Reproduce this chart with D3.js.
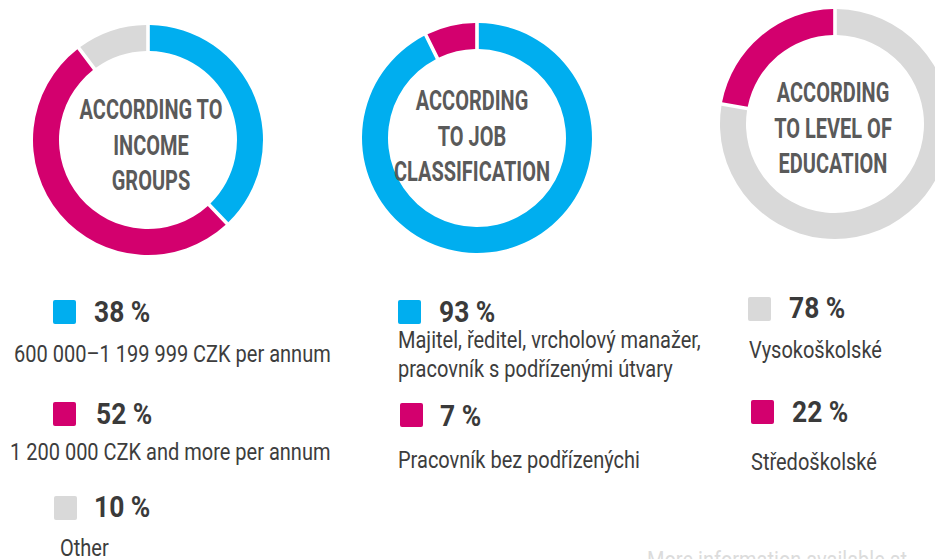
<!DOCTYPE html>
<html>
<head>
<meta charset="utf-8">
<script src="https://cdn.jsdelivr.net/npm/d3@7"></script>
<style>
  html, body { margin: 0; padding: 0; background: #fff; overflow: hidden; }
  svg text { font-family: Roboto, "Liberation Sans", sans-serif; }
</style>
</head>
<body>
<svg id="chart" width="935" height="559"></svg>
<script>
// data
let incomeCategories = ['600 000–1 199 999 CZK per annum', '1 200 000 CZK and more per annum', 'Other']
let incomeValues = [38, 52, 10]
let jobCategories = ['Majitel, ředitel, vrcholový manažer,\npracovník s podřízenými útvary', 'Pracovník bez podřízenýchi']
let jobValues = [93, 7]
let educationCategories = ['Vysokoškolské', 'Středoškolské']
let educationValues = [78, 22]

let titles = [
    ['ACCORDING TO', 'INCOME', 'GROUPS'],
    ['ACCORDING', 'TO JOB', 'CLASSIFICATION'],
    ['ACCORDING', 'TO LEVEL OF', 'EDUCATION']
]
let footnote = 'More information available at'

let blue = '#00aeef', pink = '#d3006e', grey = '#d9d9d9'
let incomeColors = [blue, pink, grey]
let jobColors = [blue, pink]
let educationColors = [grey, pink]

// layout for each donut + its legend
let charts = [
    {cats: incomeCategories, vals: incomeValues, colors: incomeColors, title: titles[0],
     cx: 148, cy: 140, titleX: 151, titleY: 119,
     sq: [[53, 300], [53, 402], [54, 496]], pct: [[94, 322], [96, 424], [94, 517]],
     desc: [[14, 362], [10, 460], [60, 556]]},
    {cats: jobCategories, vals: jobValues, colors: jobColors, title: titles[1],
     cx: 477, cy: 138, titleX: 472, titleY: 110,
     sq: [[398, 300], [400, 403]], pct: [[439, 322], [440, 426]],
     desc: [[398, 348], [398, 468]]},
    {cats: educationCategories, vals: educationValues, colors: educationColors, title: titles[2],
     cx: 835, cy: 124, titleX: 833, titleY: 102,
     sq: [[748, 297], [751, 400]], pct: [[789, 318], [792, 422]],
     desc: [[749, 358], [751, 470]]}
]

// the original face is a condensed one, so squeeze Roboto sideways
let squeezeTitle = 0.74, squeezePct = 0.91, squeezeDesc = 0.87

let outerR = 115, innerR = 89
let svg = d3.select('#chart')

let pie = d3.pie().sort(null).value(d => d).padAngle(0.025)
let arc = d3.arc().innerRadius(innerR).outerRadius(outerR)

function place(x, y, k) {
    return 'translate(' + x + ',' + y + ') scale(' + k + ',1)'
}

charts.forEach(c => {
    let g = svg.append('g').attr('transform', 'translate(' + c.cx + ',' + c.cy + ')')
    g.selectAll('path')
        .data(pie(c.vals))
        .enter().append('path')
        .attr('d', arc)
        .attr('fill', (d, i) => c.colors[i])

    // title in the middle
    svg.append('g').selectAll('text')
        .data(c.title)
        .enter().append('text')
        .attr('transform', (d, i) => place(c.titleX, c.titleY + i * 35.5, squeezeTitle))
        .attr('text-anchor', 'middle')
        .style('font-size', '27px')
        .style('font-weight', 'bold')
        .style('fill', '#5a5a5a')
        .text(d => d)

    // legend
    let items = svg.append('g').selectAll('g')
        .data(c.vals)
        .enter().append('g')

    items.append('rect')
        .attr('x', (d, i) => c.sq[i][0])
        .attr('y', (d, i) => c.sq[i][1])
        .attr('width', 23).attr('height', 24)
        .attr('rx', 2)
        .attr('fill', (d, i) => c.colors[i])

    items.append('text')
        .attr('transform', (d, i) => place(c.pct[i][0], c.pct[i][1], squeezePct))
        .style('font-size', '29px')
        .style('font-weight', 'bold')
        .style('fill', '#3a3a3a')
        .text(d => d + ' %')

    items.each(function(d, i) {
        let lines = c.cats[i].split('\n')
        d3.select(this).selectAll('text.desc')
            .data(lines)
            .enter().append('text')
            .attr('class', 'desc')
            .attr('transform', (l, j) => place(c.desc[i][0], c.desc[i][1] + j * 29, squeezeDesc))
            .style('font-size', '23px')
            .style('fill', '#3d3d3d')
            .text(l => l)
    })
})

svg.append('text')
    .attr('transform', place(647, 568, squeezeDesc))
    .style('font-size', '23px')
    .style('fill', '#dcdcdc')
    .text(footnote)
</script>
</body>
</html>
